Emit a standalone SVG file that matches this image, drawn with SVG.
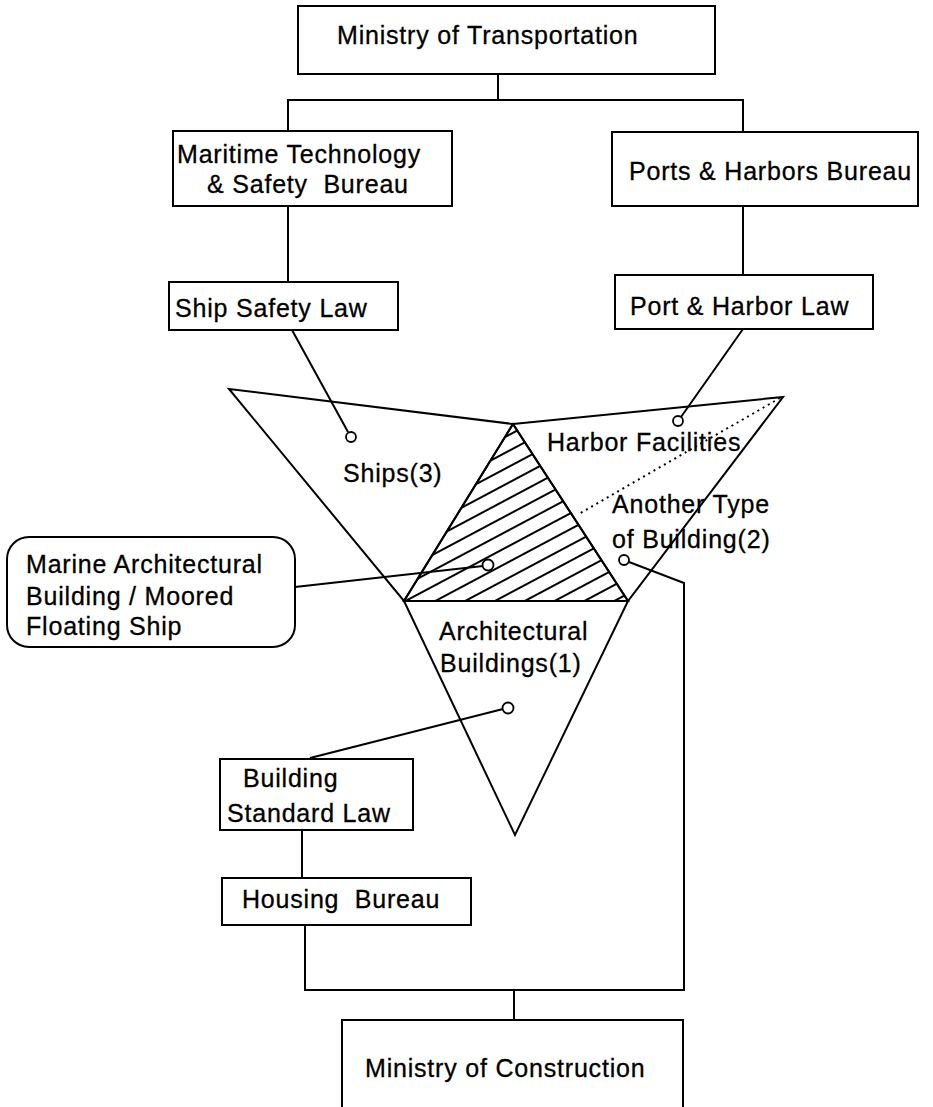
<svg xmlns="http://www.w3.org/2000/svg" width="933" height="1107" viewBox="0 0 933 1107">
  <style>
    .box { fill: #fff; stroke: #000; stroke-width: 2; }
    .ln { fill: none; stroke: #000; stroke-width: 2; }
    .tri { fill: none; stroke: #000; stroke-width: 2; stroke-linejoin: miter; }
    .tri.hatched { fill: url(#hatch); }
    .dot { fill: #fff; stroke: #000; stroke-width: 1.8; }
    .dotted { fill: none; stroke: #000; stroke-width: 2; stroke-dasharray: 2 4; }
    text { font-family: "Liberation Sans", Arial, Helvetica, sans-serif; font-size: 25px; letter-spacing: 0.8px; fill: #000; stroke: #000; stroke-width: 0.3px; }
  </style>
  <defs>
    <!-- diagonal hatching for the overlap region -->
    <pattern id="hatch" patternUnits="userSpaceOnUse" width="20" height="14" patternTransform="rotate(-28)">
      <line x1="0" y1="7" x2="20" y2="7" stroke="#000" stroke-width="2"/>
    </pattern>
  </defs>

  <rect width="933" height="1107" fill="#fff"/>

  <!-- category regions -->
  <g id="region-shared">
    <polygon points="513,424 404,601 628,601" class="tri hatched"/>
  </g>
  <g id="region-ships">
    <polygon points="229,389 513,424 404,601" class="tri"/>
    <text x="343" y="482">Ships(3)</text>
  </g>
  <g id="region-harbor">
    <polygon points="513,424 783,397 628,601" class="tri"/>
    <text x="547" y="451">Harbor Facilities</text>
    <text x="612" y="513">Another Type</text>
    <text x="612" y="548">of Building(2)</text>
  </g>
  <g id="region-buildings">
    <polygon points="404,601 628,601 515,835" class="tri"/>
    <text x="439" y="640">Architectural</text>
    <text x="440" y="672">Buildings(1)</text>
  </g>

  <!-- connectors -->
  <g id="connectors">
    <line class="ln" x1="498" y1="74" x2="498" y2="100"/>
    <line class="ln" x1="287" y1="100" x2="744" y2="100"/>
    <line class="ln" x1="288" y1="100" x2="288" y2="131"/>
    <line class="ln" x1="743" y1="100" x2="743" y2="132"/>
    <line class="ln" x1="288" y1="206" x2="288" y2="282"/>
    <line class="ln" x1="743" y1="206" x2="743" y2="275"/>
    <line class="ln" x1="292" y1="330" x2="348" y2="432"/>
    <line class="ln" x1="743" y1="329" x2="681" y2="417"/>
    <line class="dotted" x1="780" y1="398" x2="579" y2="514"/>
    <line class="ln" x1="295" y1="587" x2="483" y2="566"/>
    <polyline class="ln" points="629,562 684,583 684,990"/>
    <line class="ln" x1="310" y1="758" x2="503" y2="709"/>
    <line class="ln" x1="302" y1="830" x2="302" y2="878"/>
    <line class="ln" x1="305" y1="925" x2="305" y2="990"/>
    <line class="ln" x1="304" y1="990" x2="685" y2="990"/>
    <line class="ln" x1="514" y1="990" x2="514" y2="1020"/>
    <circle class="dot" cx="351" cy="437" r="5"/>
    <circle class="dot" cx="678" cy="421" r="5"/>
    <circle class="dot" cx="488" cy="565" r="5.5"/>
    <circle class="dot" cx="624" cy="560" r="5"/>
    <circle class="dot" cx="508" cy="708" r="5.5"/>
  </g>

  <!-- organisations and laws -->
  <g id="ministry-transportation">
    <rect class="box" x="298" y="6" width="417" height="68"/>
    <text x="337" y="44">Ministry of Transportation</text>
  </g>
  <g id="maritime-bureau">
    <rect class="box" x="173" y="131" width="279" height="75"/>
    <text x="177" y="163">Maritime Technology</text>
    <text x="207" y="193" xml:space="preserve">&amp; Safety  Bureau</text>
  </g>
  <g id="ports-bureau">
    <rect class="box" x="612" y="132" width="306" height="74"/>
    <text x="629" y="180">Ports &amp; Harbors Bureau</text>
  </g>
  <g id="ship-safety-law">
    <rect class="box" x="169" y="282" width="229" height="48"/>
    <text x="175" y="317">Ship Safety Law</text>
  </g>
  <g id="port-harbor-law">
    <rect class="box" x="615" y="275" width="258" height="54"/>
    <text x="630" y="315">Port &amp; Harbor Law</text>
  </g>
  <g id="marine-building">
    <rect class="box" x="7" y="537" width="288" height="110" rx="22" ry="22"/>
    <text x="26" y="573">Marine Architectural</text>
    <text x="26" y="605">Building / Moored</text>
    <text x="26" y="635">Floating Ship</text>
  </g>
  <g id="building-standard-law">
    <rect class="box" x="220" y="759" width="193" height="71"/>
    <text x="243" y="787">Building</text>
    <text x="227" y="822">Standard Law</text>
  </g>
  <g id="housing-bureau">
    <rect class="box" x="222" y="878" width="249" height="47"/>
    <text x="242" y="908" xml:space="preserve">Housing  Bureau</text>
  </g>
  <g id="ministry-construction">
    <rect class="box" x="342" y="1020" width="341" height="100"/>
    <text x="365" y="1077">Ministry of Construction</text>
  </g>
</svg>
